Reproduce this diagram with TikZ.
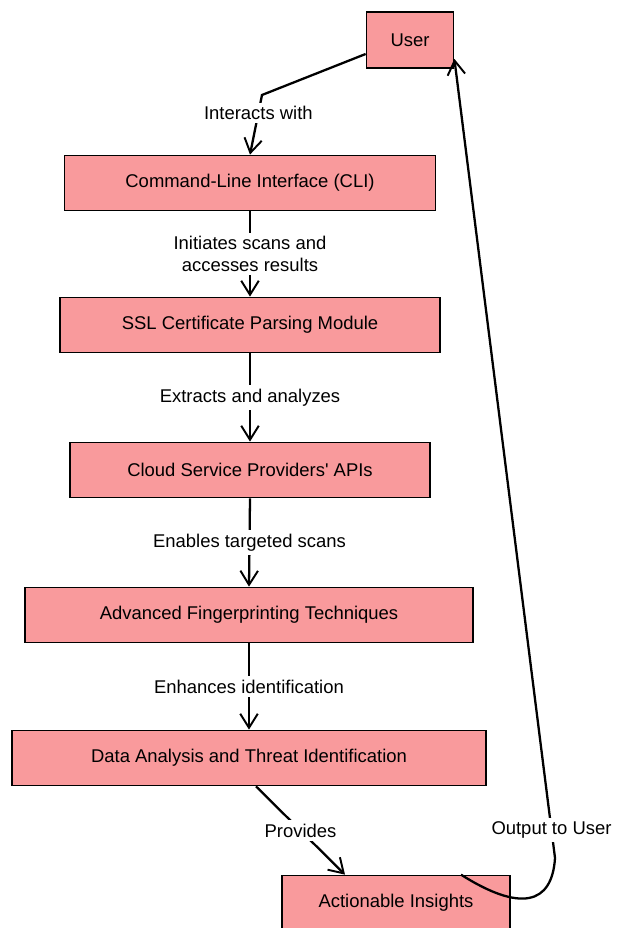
\documentclass[tikz,border=0pt]{standalone}
\usepackage{fontspec}
\setmainfont{Liberation Sans}
\usetikzlibrary{arrows.meta}

\definecolor{boxpink}{HTML}{F99A9C}

\begin{document}
\begin{tikzpicture}[x=0.02cm, y=-0.02cm,
  stagebox/.style={minimum height=1.1cm, draw=black, line width=1pt, fill=boxpink, text=black, shape=rectangle, font=\fontsize{10.5}{12.5}\selectfont},
  conn/.style={line width=1.3pt, -{Straight Barb[length=8pt,width=10pt,line width=1.1pt]}},
  lbl/.style={fill=white, align=center, inner sep=2pt, font=\fontsize{10.5}{12.5}\selectfont}]

\useasboundingbox (0,0) rectangle (620,928);

\node[align=center] (user) [stagebox, minimum width=1.74cm, minimum height=1.12cm] at (410, 40) {User};
\node[align=center] (cli) [stagebox, minimum width=7.42cm] at (250, 183) {Command-Line Interface (CLI)};
\node[align=center] (sslParse) [stagebox, minimum width=7.6cm] at (250, 325) {SSL Certificate Parsing Module};
\node[align=center] (cloudApi) [stagebox, minimum width=7.2cm] at (250, 470) {Cloud Service Providers\textquotesingle{} APIs};
\node[align=center] (fingerprint) [stagebox, minimum width=8.96cm] at (249, 615) {Advanced Fingerprinting Techniques};
\node[align=center] (analysis) [stagebox, minimum width=9.48cm] at (249, 758) {Data Analysis and Threat Identification};
\node[align=center] (insights) [stagebox, minimum width=4.56cm] at (396, 903) {Actionable Insights};

\coordinate (bendUser) at (262, 95);
\coordinate (bendOut) at (555, 858);

\draw[conn] ([yshift=-0.28cm]user.west) -- (bendUser) -- node[lbl, pos=0.3] {Interacts with} (cli.north);
\draw[conn] (cli.south) -- node[lbl, pos=0.5] {Initiates scans and\\accesses results} (sslParse.north);
\draw[conn] (sslParse.south) -- node[lbl, pos=0.5] {Extracts and analyzes} (cloudApi.north);
\draw[conn] (cloudApi.south) -- node[lbl, pos=0.5] {Enables targeted scans} (fingerprint.north);
\draw[conn] (fingerprint.south) -- node[lbl, pos=0.5] {Enhances identification} (analysis.north);
\draw[conn] ([xshift=0.14cm]analysis.south) -- node[lbl, pos=0.5] {Provides} ([xshift=-1.02cm]insights.north);
\draw[conn] ([xshift=1.3cm]insights.north) .. controls (520, 912) and (552, 905) .. (bendOut) -- node[lbl, pos=0.035] {Output to User} ([yshift=0.2cm]user.south east);

\end{tikzpicture}
\end{document}
